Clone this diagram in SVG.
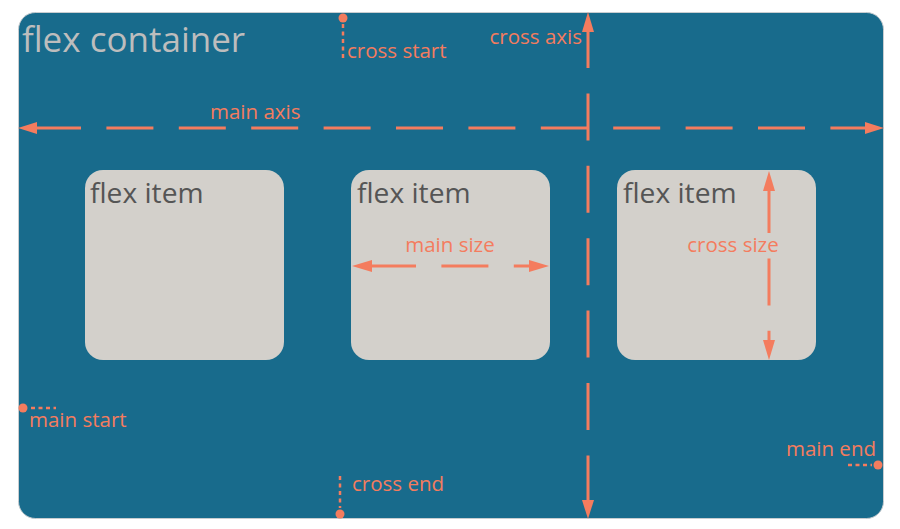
<svg xmlns="http://www.w3.org/2000/svg" width="900" height="529" viewBox="0 0 900 529">
<defs>
<style>
.lbl{font-family:"Open Sans","DejaVu Sans",sans-serif;font-size:20.5px;fill:#F47C5E}
.item rect{fill:#D3D0CB}
.item text{font-family:"Open Sans","DejaVu Sans",sans-serif;font-size:28.2px;fill:#555555}
.axis{stroke:#F47C5E;stroke-width:3;fill:none;stroke-dasharray:47 25.4}
.dot{stroke:#F47C5E;stroke-width:2.5;fill:none;stroke-dasharray:4 3.5}
.head{fill:#F47C5E}
</style>
</defs>
<rect width="900" height="529" fill="#ffffff"/>
<g id="container">
<rect x="18.5" y="12.5" width="865" height="506" rx="17" fill="#186B8C" stroke="#C8CDD0" stroke-width="1"/>
<text x="22" y="52" font-family="'Open Sans','DejaVu Sans',sans-serif" font-size="35" fill="#BDBDBD">flex container</text>
</g>
<g id="item1" class="item">
<rect x="85" y="170" width="199" height="190" rx="18"/>
<text x="90" y="203">flex item</text>
</g>
<g id="item2" class="item">
<rect x="351" y="170" width="199" height="190" rx="18"/>
<text x="357" y="203">flex item</text>
</g>
<g id="item3" class="item">
<rect x="617" y="170" width="199" height="190" rx="18"/>
<text x="623" y="203">flex item</text>
</g>
<g id="connectors">
<line class="axis" x1="34" y1="128" x2="877" y2="128"/>
<polygon class="head" points="18,128 37,122 37,134"/>
<polygon class="head" points="884,128 865,122 865,134"/>
<line class="axis" x1="588" y1="21" x2="588" y2="502"/>
<polygon class="head" points="588,12 582,32 594,32"/>
<polygon class="head" points="588,519 582,500 594,500"/>
<line class="axis" x1="369" y1="266" x2="535" y2="266"/>
<polygon class="head" points="352,266 372,260 372,272"/>
<polygon class="head" points="549,266 529,260 529,272"/>
<line class="axis" x1="769" y1="186" x2="769" y2="345"/>
<polygon class="head" points="769,171 763,191 775,191"/>
<polygon class="head" points="769,360 763,340 775,340"/>
<line class="dot" x1="343" y1="24" x2="343" y2="59"/>
<circle class="head" cx="343" cy="18" r="4.5"/>
<line class="dot" x1="31" y1="408" x2="56" y2="408"/>
<circle class="head" cx="23" cy="408" r="4.5"/>
<line class="dot" x1="340" y1="476" x2="340" y2="508"/>
<circle class="head" cx="340" cy="514" r="4.5"/>
<line class="dot" x1="848" y1="465" x2="872" y2="465"/>
<circle class="head" cx="878" cy="465" r="4.5"/>
</g>
<g id="labels">
<text class="lbl" x="347" y="58">cross start</text>
<text class="lbl" x="582" y="44" text-anchor="end">cross axis</text>
<text class="lbl" x="210" y="119">main axis</text>
<text class="lbl" x="450" y="252" text-anchor="middle">main size</text>
<text class="lbl" x="733" y="252" text-anchor="middle">cross size</text>
<text class="lbl" x="29" y="427">main start</text>
<text class="lbl" x="876" y="456" text-anchor="end">main end</text>
<text class="lbl" x="352" y="491">cross end</text>
</g>
</svg>
